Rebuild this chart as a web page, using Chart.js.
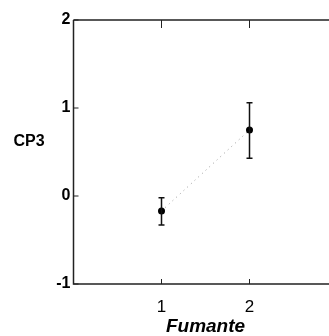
<!DOCTYPE html>
<html>
<head>
<meta charset="utf-8">
<script src="https://cdn.jsdelivr.net/npm/chart.js@4/dist/chart.umd.min.js"></script>
<style>
  html, body { margin: 0; padding: 0; background: #fff; overflow: hidden; }
  canvas { display: block; }
</style>
</head>
<body>
<canvas id="c" width="345" height="336"></canvas>
<script>
// data
const groups = [1, 2];
const means = [-0.17, 0.75];
const lowerBars = [-0.33, 0.43];
const upperBars = [-0.02, 1.06];
const xTicks = [1, 2];
const yTicks = [-1, 0, 1, 2];

const FONT = "'Liberation Sans', Arial, sans-serif";

// error bars, frame, inward ticks and horizontal y title
const extras = {
  id: 'extras',
  afterDatasetsDraw(chart) {
    const { ctx, chartArea: a, scales: { x, y } } = chart;
    ctx.save();
    // error bars
    ctx.strokeStyle = '#111';
    ctx.lineWidth = 1.5;
    groups.forEach((g, i) => {
      const px = x.getPixelForValue(g);
      const lo = y.getPixelForValue(lowerBars[i]);
      const hi = y.getPixelForValue(upperBars[i]);
      ctx.beginPath();
      ctx.moveTo(px, lo); ctx.lineTo(px, hi);
      ctx.moveTo(px - 3, lo); ctx.lineTo(px + 3, lo);
      ctx.moveTo(px - 3, hi); ctx.lineTo(px + 3, hi);
      ctx.stroke();
    });
    // frame
    ctx.strokeStyle = '#222';
    ctx.lineWidth = 1.5;
    ctx.beginPath();
    ctx.moveTo(a.left, a.top); ctx.lineTo(a.right, a.top);
    ctx.moveTo(a.left, a.top); ctx.lineTo(a.left, a.bottom);
    ctx.lineTo(a.right, a.bottom);
    ctx.stroke();
    // inward ticks
    ctx.lineWidth = 1;
    ctx.beginPath();
    yTicks.forEach(v => {
      const py = y.getPixelForValue(v);
      ctx.moveTo(a.left, py); ctx.lineTo(a.left + 5, py);
    });
    xTicks.forEach(v => {
      const px = x.getPixelForValue(v);
      ctx.moveTo(px, a.bottom); ctx.lineTo(px, a.bottom - 5);
      ctx.moveTo(px, a.top); ctx.lineTo(px, a.top + 8);
    });
    ctx.stroke();
    // y title, horizontal
    ctx.fillStyle = '#000';
    ctx.font = 'bold 16px ' + FONT;
    ctx.textAlign = 'center';
    ctx.textBaseline = 'middle';
    ctx.fillText('CP3', 29, 142);
    ctx.restore();
  }
};

new Chart(document.getElementById('c'), {
  type: 'scatter',
  data: {
    datasets: [{
      data: groups.map((g, i) => ({ x: g, y: means[i] })),
      showLine: true,
      borderColor: '#999',
      borderWidth: 1,
      borderDash: [1, 4],
      backgroundColor: '#000',
      pointBackgroundColor: '#000',
      pointBorderColor: '#000',
      pointRadius: 3.5,
      pointBorderWidth: 0
    }]
  },
  options: {
    responsive: false,
    animation: false,
    events: [],
    layout: { padding: { top: 20, right: 7.5, left: 0, bottom: 0 } },
    plugins: { legend: { display: false }, tooltip: { enabled: false } },
    scales: {
      x: {
        type: 'linear',
        min: 0,
        max: 3,
        afterBuildTicks: s => { s.ticks = xTicks.map(v => ({ value: v })); },
        afterFit: s => { s.height = 52; },
        grid: { display: false, drawTicks: false, tickLength: 0 },
        border: { display: false },
        ticks: { color: '#000', padding: 13, font: { family: FONT, size: 17 } },
        title: {
          display: true,
          text: 'Fumante',
          color: '#000',
          padding: { top: 0, bottom: -2 },
          font: { family: FONT, size: 19, weight: 'bold', style: 'italic' }
        }
      },
      y: {
        min: -1,
        max: 2,
        afterBuildTicks: s => { s.ticks = yTicks.map(v => ({ value: v })); },
        afterFit: s => { s.width = 73.5; },
        grid: { display: false, drawTicks: false, tickLength: 0 },
        border: { display: false },
        ticks: { color: '#000', padding: 3, font: { family: FONT, size: 16, weight: 'bold' } }
      }
    }
  },
  plugins: [extras]
});
</script>
</body>
</html>
